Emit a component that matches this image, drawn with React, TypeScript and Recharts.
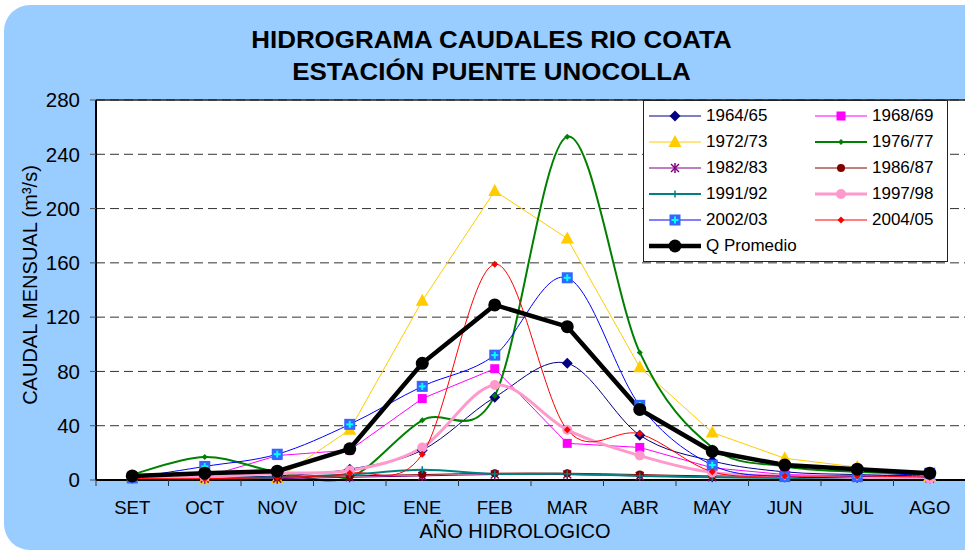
import React from 'react';
import {
  LineChart, Line, XAxis, YAxis, CartesianGrid, ReferenceLine,
} from 'recharts';

// Caudal mensual (m3/s), año hidrologico SET..AGO
const months = ['SET', 'OCT', 'NOV', 'DIC', 'ENE', 'FEB', 'MAR', 'ABR', 'MAY', 'JUN', 'JUL', 'AGO'];
const yTicks = [0, 40, 80, 120, 160, 200, 240, 280];

const s6465 = [1, 2, 3, 8, 22, 61, 86, 33, 14, 6, 4, 3];
const s6869 = [1, 2, 18, 22, 60, 82, 27, 24, 9, 4, 3, 2];
const s7273 = [1, 0.5, 1, 37, 132, 213, 178, 83, 35, 16, 9.5, 3];
const s7677 = [4, 17, 6, 2, 44, 62, 253, 94, 24, 10, 6, 4];
const s8283 = [1, 1, 1, 2, 3, 4, 4, 3, 2, 2, 1.5, 1];
const s8687 = [2, 2, 2, 3, 4, 5, 5, 4, 3, 3, 2, 2];
const s9192 = [1, 1.5, 2, 4, 7.5, 4.5, 4.5, 3, 2, 1.5, 1, 1];
const s9798 = [1, 2, 5, 7, 24, 70, 37, 18, 5.5, 3, 2, 1];
const s0203 = [1.5, 10, 19, 41, 69, 92, 149, 55, 11, 2.5, 2.5, 5];
const s0405 = [1, 1, 2, 5, 19, 159, 37, 34, 6, 3, 3, 2];
const promedio = [3, 5, 6.5, 23, 86, 129, 113, 52, 21, 11, 8, 5];

const data = months.map((mes, i) => ({
  mes,
  s6465: s6465[i], s6869: s6869[i], s7273: s7273[i], s7677: s7677[i],
  s8283: s8283[i], s8687: s8687[i], s9192: s9192[i], s9798: s9798[i],
  s0203: s0203[i], s0405: s0405[i], promedio: promedio[i],
}));

const series = [
  { key: 's6465', name: '1964/65', color: '#000080', width: 1, smooth: true, shape: 'diamond' },
  { key: 's6869', name: '1968/69', color: '#FF00FF', width: 1, smooth: false, shape: 'square' },
  { key: 's7273', name: '1972/73', color: '#FFCC00', width: 1, smooth: false, shape: 'triangle' },
  { key: 's7677', name: '1976/77', color: '#008000', width: 2, smooth: true, shape: 'diamondSm' },
  { key: 's8283', name: '1982/83', color: '#800080', width: 1, smooth: true, shape: 'star' },
  { key: 's8687', name: '1986/87', color: '#800000', width: 1, smooth: true, shape: 'circleSm' },
  { key: 's9192', name: '1991/92', color: '#008080', width: 2, smooth: true, shape: 'plus' },
  { key: 's9798', name: '1997/98', color: '#FF99CC', width: 3, smooth: true, shape: 'circle' },
  { key: 's0203', name: '2002/03', color: '#0000FF', width: 1, smooth: true, shape: 'sqPlus' },
  { key: 's0405', name: '2004/05', color: '#FF0000', width: 1, smooth: true, shape: 'diamondRed' },
  { key: 'promedio', name: 'Q Promedio', color: '#000000', width: 4.5, smooth: false, shape: 'dot' },
];

const FONT = '"Liberation Sans", Arial, sans-serif';

// Excel-like smoothed line (catmull-rom through every point)
function excelSmooth(context: any) {
  let pts: number[][] = [];
  return {
    areaStart() {},
    areaEnd() {},
    lineStart() { pts = []; },
    point(x: number, y: number) { pts.push([+x, +y]); },
    lineEnd() {
      const n = pts.length;
      if (!n) return;
      context.moveTo(pts[0][0], pts[0][1]);
      for (let i = 0; i < n - 1; i++) {
        const p0 = pts[i - 1] || pts[i];
        const p1 = pts[i];
        const p2 = pts[i + 1];
        const p3 = pts[i + 2] || p2;
        context.bezierCurveTo(
          p1[0] + (p2[0] - p0[0]) / 6, p1[1] + (p2[1] - p0[1]) / 6,
          p2[0] - (p3[0] - p1[0]) / 6, p2[1] - (p3[1] - p1[1]) / 6,
          p2[0], p2[1],
        );
      }
    },
  };
}

function Mark({ shape, cx, cy }: { shape: string; cx: number; cy: number }) {
  if (cx == null || cy == null) return null;
  const dia = (h: number, fill: string) => (
    <polygon points={`${cx},${cy - h} ${cx + h},${cy} ${cx},${cy + h} ${cx - h},${cy}`} fill={fill} />
  );
  switch (shape) {
    case 'diamond': return dia(5.5, '#000080');
    case 'diamondSm': return dia(3, '#008000');
    case 'diamondRed': return dia(3.5, '#FF0000');
    case 'square': return <rect x={cx - 4.5} y={cy - 4.5} width={9} height={9} fill="#FF00FF" />;
    case 'triangle':
      return <polygon points={`${cx},${cy - 7} ${cx + 6.5},${cy + 5} ${cx - 6.5},${cy + 5}`} fill="#FFCC00" />;
    case 'star':
      return (
        <g stroke="#800080" strokeWidth={1.5}>
          <line x1={cx - 4} y1={cy - 4} x2={cx + 4} y2={cy + 4} />
          <line x1={cx - 4} y1={cy + 4} x2={cx + 4} y2={cy - 4} />
          <line x1={cx} y1={cy - 5} x2={cx} y2={cy + 5} />
        </g>
      );
    case 'circleSm': return <circle cx={cx} cy={cy} r={4} fill="#800000" />;
    case 'plus':
      return (
        <g stroke="#008080" strokeWidth={1.5}>
          <line x1={cx - 3.5} y1={cy} x2={cx + 3.5} y2={cy} />
          <line x1={cx} y1={cy - 3.5} x2={cx} y2={cy + 3.5} />
        </g>
      );
    case 'circle': return <circle cx={cx} cy={cy} r={5} fill="#FF99CC" />;
    case 'sqPlus':
      return (
        <g>
          <rect x={cx - 5.5} y={cy - 5.5} width={11} height={11} fill="#3366FF" />
          <g stroke="#00FFFF" strokeWidth={2}>
            <line x1={cx - 3.5} y1={cy} x2={cx + 3.5} y2={cy} />
            <line x1={cx} y1={cy - 3.5} x2={cx} y2={cy + 3.5} />
          </g>
        </g>
      );
    case 'dot': return <circle cx={cx} cy={cy} r={6.5} fill="#000" />;
    default: return null;
  }
}

const X_TICK = 6;
const X_MARGIN = 15;

function MonthTick(props: any) {
  const { x, y, payload, index } = props;
  const half = payload.offset || 36.25;
  const axisY = y - X_TICK - X_MARGIN;
  return (
    <g>
      <line x1={x - half} y1={axisY} x2={x - half} y2={axisY + X_TICK} stroke="#333" />
      {index === months.length - 1 && (
        <line x1={x + half} y1={axisY} x2={x + half} y2={axisY + X_TICK} stroke="#333" />
      )}
      <text x={x} y={y} dy="0.71em" textAnchor="middle" fontSize={18.5} fill="#000" fontFamily={FONT}>
        {payload.value}
      </text>
    </g>
  );
}

function LegendItem({ s }: { s: typeof series[number] }) {
  return (
    <div style={{ display: 'flex', alignItems: 'center', height: 26 }}>
      <svg width={54} height={16} style={{ marginRight: 4 }}>
        <line x1={1} y1={8} x2={53} y2={8} stroke={s.color} strokeWidth={s.width} />
        <Mark shape={s.shape} cx={27} cy={8} />
      </svg>
      <span>{s.name}</span>
    </div>
  );
}

export default function App() {
  return (
    <div style={{
      position: 'absolute', left: 0, top: 0, width: 965, height: 551,
      overflow: 'hidden', background: '#fff', fontFamily: FONT,
    }}>
      <div style={{
        position: 'absolute', left: 4, top: 5, width: 1000, height: 545,
        borderRadius: 26, background: '#99CCFF',
      }} />
      <div style={{
        position: 'absolute', left: 0, top: 24, width: 983, textAlign: 'center',
        fontSize: 24, fontWeight: 'bold', lineHeight: '32px', color: '#000',
        transform: 'scaleX(1.08)', transformOrigin: '491.5px 0',
      }}>
        <div>HIDROGRAMA CAUDALES RIO COATA</div>
        <div>ESTACIÓN PUENTE UNOCOLLA</div>
      </div>

      <div style={{ position: 'absolute', left: 0, top: 0 }}>
        <LineChart width={966} height={551} data={data}
          margin={{ top: 100, right: 0, left: 0, bottom: 31 }}>
          <CartesianGrid vertical={false} fill="#fff" stroke="#333" strokeDasharray="9 5" />
          <ReferenceLine y={280} stroke="#222" strokeWidth={1.5} />
          <XAxis dataKey="mes" scale="band" height={40} tickSize={X_TICK} tickMargin={X_MARGIN}
            tickLine={false} axisLine={{ stroke: '#000', strokeWidth: 2 }}
            tick={<MonthTick />} interval={0} />
          <YAxis width={96} domain={[0, 280]} ticks={yTicks} interval={0}
            tickSize={6} tickMargin={10}
            tickLine={{ stroke: '#555' }} axisLine={{ stroke: '#000', strokeWidth: 2 }}
            tick={{ fontSize: 20.5, fill: '#000', fontFamily: FONT }} />
          {series.map((s) => (
            <Line key={s.key} dataKey={s.key} name={s.name}
              type={s.smooth ? (excelSmooth as any) : 'linear'}
              stroke={s.color} strokeWidth={s.width}
              dot={(p: any) => <Mark key={`${s.key}-${p.index}`} shape={s.shape} cx={p.cx} cy={p.cy} />}
              activeDot={false} isAnimationActive={false} />
          ))}
        </LineChart>
      </div>

      <div style={{
        position: 'absolute', left: 30, top: 285, transform: 'translate(-50%, -50%) rotate(-90deg)',
        fontSize: 20, whiteSpace: 'nowrap', color: '#000',
      }}>
        CAUDAL MENSUAL (m³/s)
      </div>
      <div style={{
        position: 'absolute', left: 515, top: 531, transform: 'translate(-50%, -50%)',
        fontSize: 20, whiteSpace: 'nowrap', color: '#000',
      }}>
        AÑO HIDROLOGICO
      </div>

      <div style={{
        position: 'absolute', left: 643, top: 100, width: 305, height: 162,
        background: '#fff', border: '1.5px solid #222', fontSize: 17, color: '#000',
        display: 'grid', gridTemplateColumns: '166px 139px', paddingTop: 2, paddingLeft: 4,
        boxSizing: 'border-box', alignContent: 'start',
      }}>
        {series.map((s) => <LegendItem key={s.key} s={s} />)}
      </div>
    </div>
  );
}
